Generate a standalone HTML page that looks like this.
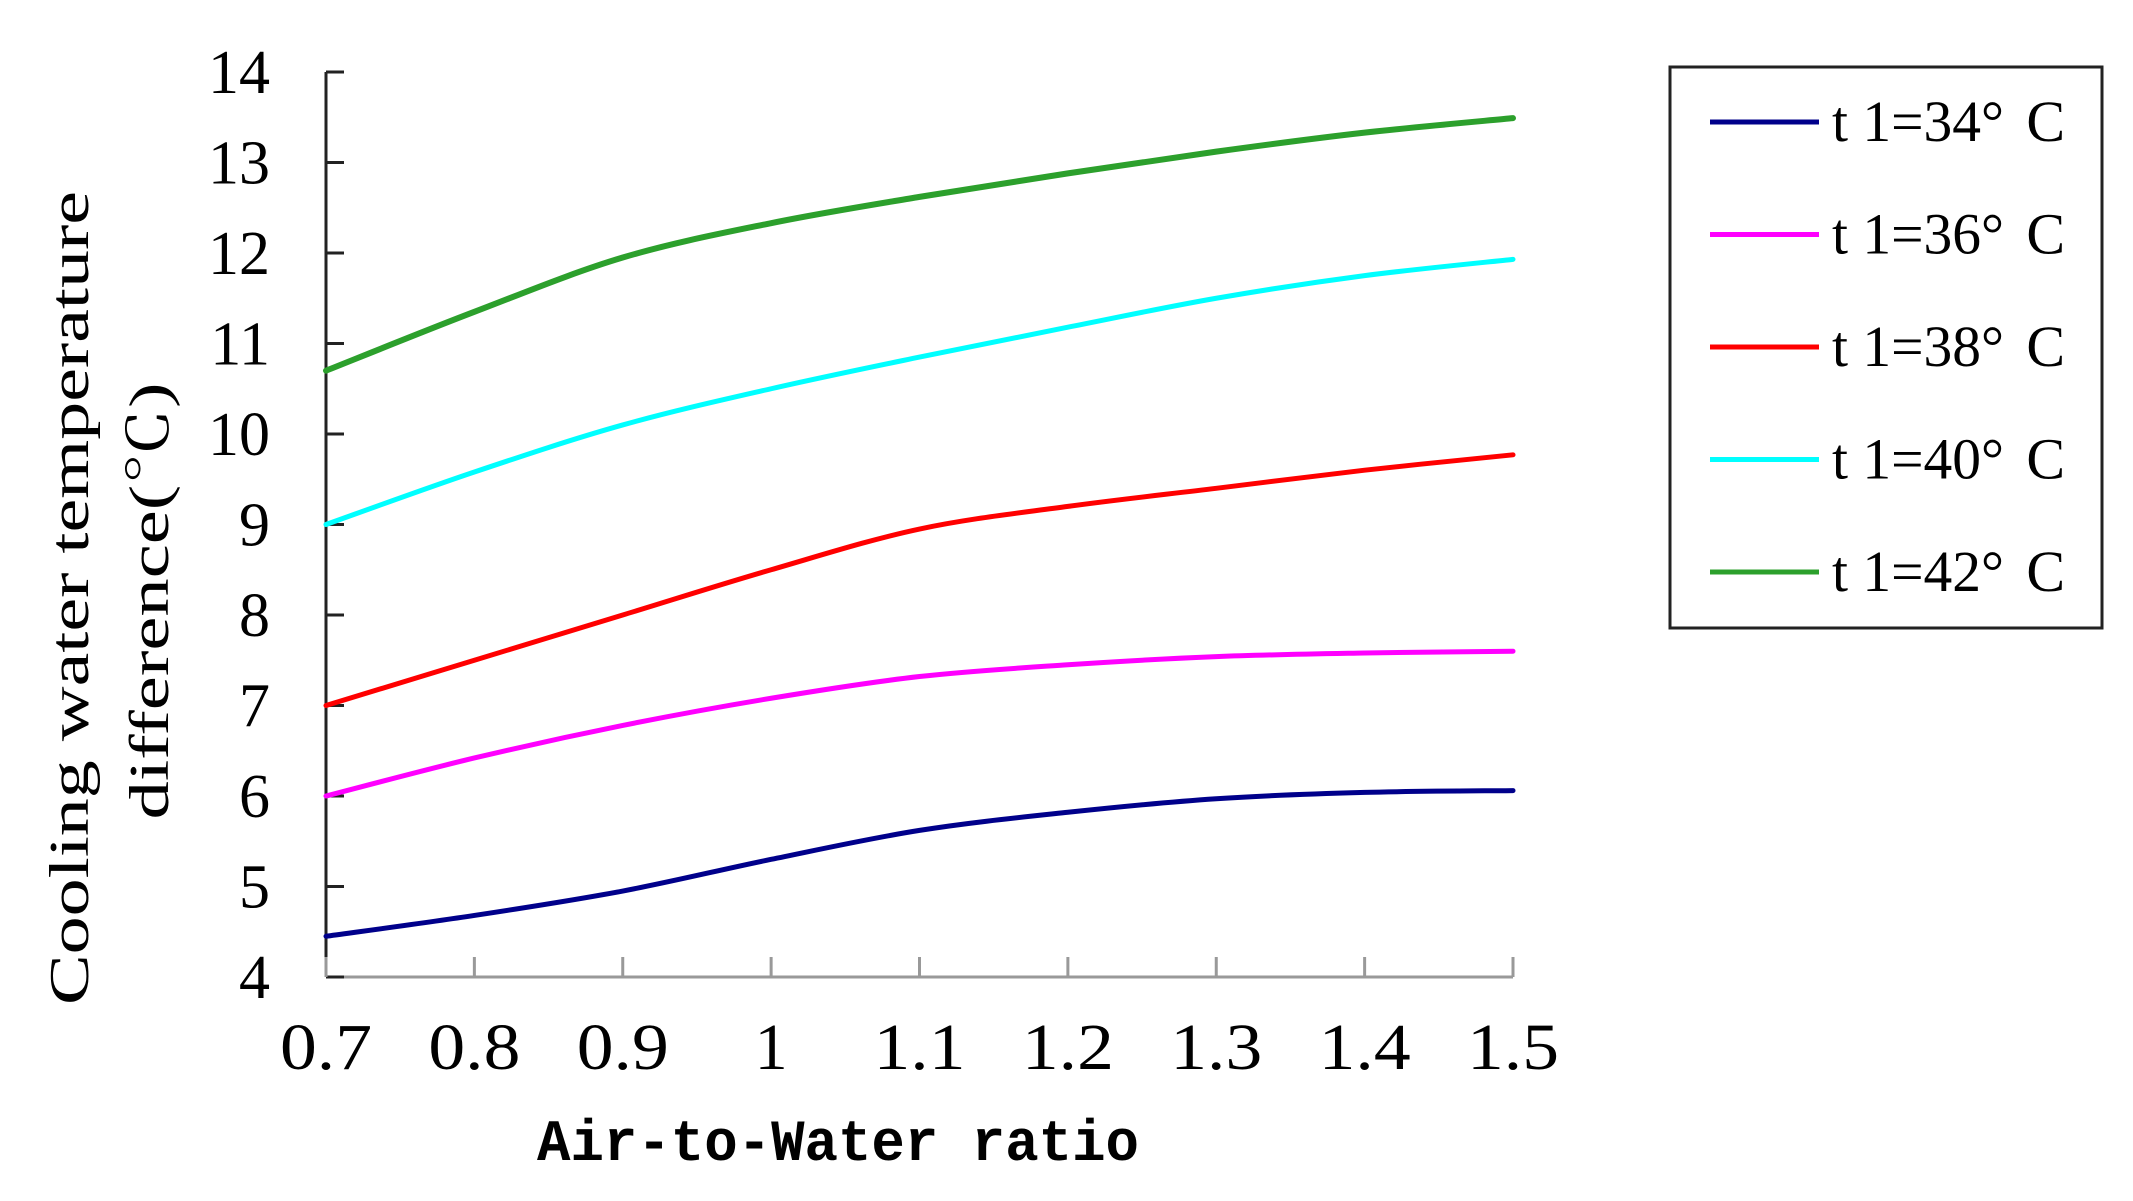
<!DOCTYPE html>
<html><head><meta charset="utf-8"><style>html,body{margin:0;padding:0;background:#fff}svg{display:block}</style></head>
<body>
<svg id="chart" width="2133" height="1201" viewBox="0 0 2133 1201" xmlns="http://www.w3.org/2000/svg">
<g id="axes"></g>
<g id="series"></g>
<text x="838" y="1160" text-anchor="middle" font-family="Liberation Mono, monospace" font-weight="bold" font-size="58" textLength="602" lengthAdjust="spacingAndGlyphs">Air-to-Water ratio</text>
<text transform="translate(88,598) rotate(-90)" text-anchor="middle" font-family="Liberation Serif, serif" font-size="56" textLength="814" lengthAdjust="spacingAndGlyphs">Cooling water temperature</text>
<text transform="translate(168,601) rotate(-90)" text-anchor="middle" font-family="Liberation Serif, 'Noto Serif CJK SC', serif" font-size="56" textLength="437" lengthAdjust="spacingAndGlyphs">difference(℃)</text>
<g id="legend">
<rect x="1670" y="67" width="432" height="561" fill="#fff" stroke="#222" stroke-width="3"/>
</g>
</svg>
<script>
const xValues = [0.7, 0.8, 0.9, 1.0, 1.1, 1.2, 1.3, 1.4, 1.5];
const xTickLabels = ["0.7","0.8","0.9","1","1.1","1.2","1.3","1.4","1.5"];
const yTicks = [4,5,6,7,8,9,10,11,12,13,14];
const seriesNames = ["t1=34° C","t1=36° C","t1=38° C","t1=40° C","t1=42° C"];
const legendLabels = ["t 1=34°","t 1=36°","t 1=38°","t 1=40°","t 1=42°"];
const t34 = [4.45, 4.68, 4.95, 5.3, 5.62, 5.82, 5.97, 6.04, 6.06];
const t36 = [6.0, 6.42, 6.78, 7.08, 7.32, 7.45, 7.54, 7.58, 7.6];
const t38 = [7.0, 7.5, 8.0, 8.5, 8.95, 9.2, 9.4, 9.6, 9.77];
const t40 = [9.0, 9.58, 10.1, 10.5, 10.85, 11.18, 11.5, 11.75, 11.93];
const t42 = [10.7, 11.35, 11.95, 12.33, 12.62, 12.88, 13.12, 13.33, 13.49];
const allSeries = [t34, t36, t38, t40, t42];
const colors = ["#00008b","#ff00ff","#ff0000","#00ffff","#2ca02c"];

const NS = "http://www.w3.org/2000/svg";
const X0 = 326, X1 = 1513, Y0 = 977, Y1 = 72;
function xs(v){ return X0 + (v - 0.7) / 0.8 * (X1 - X0); }
function ys(v){ return Y0 - (v - 4) / 10 * (Y0 - Y1); }
function mk(tag, attrs, parent){ const e = document.createElementNS(NS, tag); for (const k in attrs) e.setAttribute(k, attrs[k]); parent.appendChild(e); return e; }

const axes = document.getElementById('axes');
const yAxis = mk('line', {x1:X0, y1:Y1, x2:X0, y2:Y0, stroke:'#222', 'stroke-width':3}, axes);


const xAxis = mk('line', {x1:X0, y1:Y0, x2:X1, y2:Y0, stroke:'#999', 'stroke-width':3}, axes);



yTicks.forEach(t => {
  const y = ys(t);
  const tk = mk('line', {x1:X0, y1:y, x2:X0+18, y2:y, stroke:'#222', 'stroke-width':3}, axes);
  
  
  const lb = mk('text', {x:270, y:y+21, 'text-anchor':'end', 'font-family':'Liberation Serif, serif', 'font-size':62}, axes);
  lb.textContent = t;
  
  
});
xValues.forEach((v, i) => {
  const x = xs(v);
  const tk = mk('line', {x1:x, y1:Y0, x2:x, y2:Y0-20, stroke:'#999', 'stroke-width':3}, axes);
  
  
  const s = xTickLabels[i];
  const attrs = {x:x, y:1069, 'text-anchor':'middle', 'font-family':'Liberation Serif, serif', 'font-size':66};
  if (s.length > 1) { attrs.textLength = 92; attrs.lengthAdjust = 'spacingAndGlyphs'; }
  const lb = mk('text', attrs, axes);
  lb.textContent = s;
  
  
});

function smoothPath(pts){
  let d = 'M' + pts[0][0] + ',' + pts[0][1];
  for (let i = 0; i < pts.length - 1; i++) {
    const p0 = pts[Math.max(0, i-1)], p1 = pts[i], p2 = pts[i+1], p3 = pts[Math.min(pts.length-1, i+2)];
    const c1x = p1[0] + (p2[0]-p0[0])/6, c1y = p1[1] + (p2[1]-p0[1])/6;
    const c2x = p2[0] - (p3[0]-p1[0])/6, c2y = p2[1] - (p3[1]-p1[1])/6;
    d += ' C' + c1x + ',' + c1y + ' ' + c2x + ',' + c2y + ' ' + p2[0] + ',' + p2[1];
  }
  return d;
}
const sg = document.getElementById('series');
allSeries.forEach((vals, si) => {
  const pts = vals.map((v, i) => [xs(xValues[i]), ys(v)]);
  const p = mk('path', {d:smoothPath(pts), fill:'none', stroke:colors[si], 'stroke-width': si===4 ? 6 : 5, 'stroke-linecap':'round'}, sg);
  
  
});

const lg = document.getElementById('legend');
legendLabels.forEach((name, i) => {
  const y = 122 + i * 112.5;
  const ln = mk('line', {x1:1710, y1:y, x2:1819, y2:y, stroke:colors[i], 'stroke-width':5}, lg);
  
  
  const tx = mk('text', {x:1832, y:y+19, 'font-family':'Liberation Serif, serif', 'font-size':58, textLength:172, lengthAdjust:'spacingAndGlyphs'}, lg);
  tx.textContent = name;
  
  
  const tc = mk('text', {x:2065, y:y+19, 'text-anchor':'end', 'font-family':'Liberation Serif, serif', 'font-size':58}, lg);
  tc.textContent = 'C';
  
  
});
</script>
</body></html>
